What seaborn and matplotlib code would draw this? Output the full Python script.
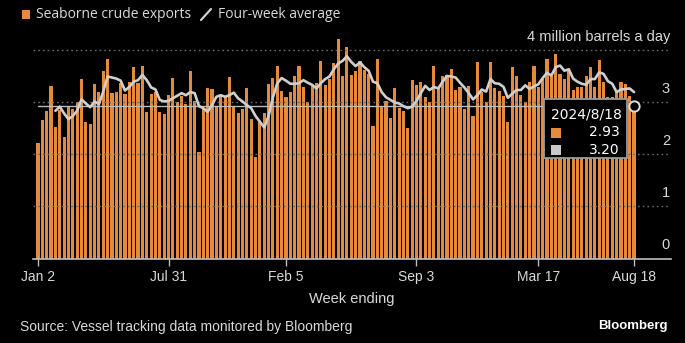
import numpy as np
import pandas as pd
import matplotlib
matplotlib.use("Agg")
import matplotlib.pyplot as plt
import seaborn as sns
from matplotlib.patches import Rectangle
from matplotlib.lines import Line2D

# ---------------- data ----------------
exports = [
    2.23, 2.66, 2.83, 3.32, 2.52, 2.86, 2.34, 2.93, 2.87, 3.00, 3.45, 2.62, 2.59, 3.35, 3.20, 3.60, 3.84, 3.19, 3.20, 3.38, 3.16, 3.39,
    3.68, 3.37, 3.71, 2.82, 3.16, 3.20, 2.82, 2.77, 3.14, 3.47, 3.00, 3.13, 2.98, 3.61, 3.02, 2.05, 2.89, 3.27, 3.25, 2.92, 3.13,
    3.11, 3.49, 2.93, 2.79, 2.88, 3.28, 2.68, 1.96, 2.63, 2.79, 3.36, 3.47, 3.70, 3.22, 3.11, 3.20, 3.51, 3.70, 3.30, 3.00, 3.34, 3.37, 3.80,
    3.34, 3.45, 3.76, 4.22, 3.50, 4.07, 3.53, 3.60, 3.80, 3.63, 3.54, 2.55, 3.84, 2.91, 3.02, 2.70, 3.28, 2.90, 2.84, 2.50, 3.43,
    3.33, 3.39, 3.10, 3.00, 3.71, 3.27, 3.50, 3.53, 3.64, 3.24, 3.30, 2.87, 3.32, 2.74, 3.78, 3.21, 3.01, 3.78, 3.28, 3.22, 3.13, 2.63,
    3.69, 3.50, 3.14, 3.00, 3.40, 3.70, 3.30, 3.46, 3.83, 3.50, 3.94, 3.55, 3.45, 3.60, 3.24, 3.30, 3.30, 3.50, 3.69, 3.30, 3.82, 3.40,
    3.10, 3.10, 3.20, 3.40, 3.35, 3.12, 2.93,
]
four_week_avg = [
    np.nan, np.nan, np.nan, np.nan, 2.84, 2.92, 2.79, 2.68, 2.74, 2.84, 3.06, 2.98, 2.91, 3.02, 2.97, 3.21, 3.50, 3.48, 3.46, 3.42, 3.23, 3.30,
    3.40, 3.43, 3.53, 3.43, 3.29, 3.25, 3.05, 3.02, 3.03, 3.08, 3.13, 3.18, 3.14, 3.20, 3.18, 2.93, 2.89, 2.82, 2.95, 3.11, 3.14,
    3.11, 3.14, 3.19, 3.08, 3.02, 2.95, 2.89, 2.74, 2.63, 2.52, 2.74, 3.10, 3.37, 3.47, 3.42, 3.36, 3.36, 3.37, 3.43, 3.38, 3.34, 3.27, 3.37,
    3.45, 3.50, 3.64, 3.75, 3.80, 3.89, 3.78, 3.70, 3.77, 3.68, 3.61, 3.40, 3.37, 3.20, 3.10, 3.05, 3.00, 2.98, 2.93, 2.89, 2.92,
    3.03, 3.18, 3.32, 3.24, 3.30, 3.27, 3.40, 3.51, 3.50, 3.48, 3.38, 3.29, 3.18, 3.06, 3.14, 3.25, 3.21, 3.45, 3.37, 3.36, 3.30, 3.09,
    3.17, 3.24, 3.24, 3.33, 3.26, 3.31, 3.35, 3.47, 3.57, 3.52, 3.68, 3.71, 3.61, 3.64, 3.46, 3.40, 3.36, 3.34, 3.45, 3.45, 3.58, 3.55,
    3.41, 3.36, 3.20, 3.25, 3.26, 3.27, 3.20,
]
first_week = "2022-01-02"
tick_weeks = [0, 30, 57, 87, 115, 137]
tick_labels = ["Jan 2", "Jul 31", "Feb 5", "Sep 3", "Mar 17", "Aug 18"]
y_ticks = [0, 1, 2, 3, 4]
y_labels = ["0", "1", "2", "3", "4 million barrels a day"]
hover_week = 137
hover_date = "2024/8/18"

ORANGE = "#E5893D"
LINE_GREY = "#CFCFCF"
TEXT = "#D9D9D9"

n = len(exports)
df = pd.DataFrame({
    "week": np.arange(n),
    "date": pd.date_range(first_week, periods=n, freq="7D"),
    "exports": exports,
    "avg": four_week_avg,
})

sns.set_theme(style="dark")
plt.rcParams["font.family"] = ["Liberation Sans", "DejaVu Sans"]
LEG_FONT = ["Open Sans", "DejaVu Sans"]

W, H = 685, 343
fig = plt.figure(figsize=(W / 100, H / 100), dpi=100, facecolor="black")
ax = fig.add_axes([33 / W, (H - 258.5) / H, (671 - 33) / W, (258.5 - 30) / H])
ax.set_facecolor("black")

sns.barplot(data=df, x="week", y="exports", native_scale=True, color=ORANGE,
            saturation=1, width=0.72, linewidth=0, errorbar=None, ax=ax, zorder=2)
sns.lineplot(data=df, x="week", y="avg", color=LINE_GREY, linewidth=1.9, ax=ax, zorder=5)

ax.set_xlim(-1.15, 145.5)
ax.set_ylim(0, 4.394)
for s in ["top", "right", "left"]:
    ax.spines[s].set_visible(False)
ax.spines["bottom"].set_color("#BDBDBD")
ax.spines["bottom"].set_linewidth(1.2)
ax.grid(False)

# gridlines
for v in y_ticks[1:]:
    ax.axhline(v, color="#6A6A6A", linestyle=(0, (1.2, 2.2)), linewidth=1.0, zorder=3)

# y labels (right side, above the gridlines)
ax.set_yticks([])
for v, lab in zip(y_ticks, y_labels):
    ax.annotate(lab, xy=(0.9985, v), xycoords=("axes fraction", "data"),
                xytext=(0, 9.5), textcoords="offset points", ha="right", va="center",
                color=TEXT, fontsize=10.5)

# x ticks
ax.set_xticks(tick_weeks)
ax.set_xticklabels(tick_labels)
ax.tick_params(axis="x", colors="#BDBDBD", length=5, width=1, labelcolor=TEXT,
               labelsize=10, pad=3, bottom=True)
ax.set_xlabel("Week ending", color=TEXT, fontsize=10.5, labelpad=6)
ax.set_ylabel("")

# hover cross-hair and marker
hv = exports[hover_week]
ax.plot([0, hover_week], [hv, hv], color="#BBBBBB", linewidth=1.0, zorder=4)
ax.scatter([hover_week], [hv], s=55, facecolor="black", edgecolor="#DDDDDD",
           linewidth=1.4, zorder=7)

# tooltip box (figure pixel coords)
def fx(px):
    return px / W

def fy(py):
    return 1 - py / H

fig.patches.append(Rectangle((fx(544), fy(158)), (627 - 544) / W, (158 - 99) / H,
                             transform=fig.transFigure, facecolor="black",
                             edgecolor="#9A9A9A", linewidth=1.3, zorder=10))
fig.text(fx(586), fy(115), hover_date, color="white", fontsize=10, ha="center",
         va="center", family=["DejaVu Sans"], zorder=11)
fig.patches.append(Rectangle((fx(551), fy(137.5)), 10 / W, 10 / H, transform=fig.transFigure,
                             facecolor=ORANGE, edgecolor="none", zorder=11))
fig.patches.append(Rectangle((fx(551), fy(154.5)), 10 / W, 10 / H, transform=fig.transFigure,
                             facecolor="#C8C8C8", edgecolor="none", zorder=11))
fig.text(fx(620), fy(132.5), f"{exports[hover_week]:.2f}", color="white", fontsize=10,
         ha="right", va="center", family=["DejaVu Sans"], zorder=11)
fig.text(fx(620), fy(149.5), f"{four_week_avg[hover_week]:.2f}", color="white", fontsize=10,
         ha="right", va="center", family=["DejaVu Sans"], zorder=11)

# legend
fig.patches.append(Rectangle((fx(22), fy(18.5)), 8 / W, 8 / H, transform=fig.transFigure,
                             facecolor=ORANGE, edgecolor="none"))
fig.text(fx(36), fy(14.5), "Seaborne crude exports", color=TEXT, fontsize=10,
         ha="left", va="center", family=LEG_FONT)
fig.lines.append(Line2D([fx(201), fx(211)], [fy(20), fy(9)], transform=fig.transFigure,
                        color=LINE_GREY, linewidth=1.6))
fig.text(fx(218), fy(14.5), "Four-week average", color=TEXT, fontsize=10,
         ha="left", va="center", family=LEG_FONT)

# footer
fig.text(fx(20), fy(327), "Source: Vessel tracking data monitored by Bloomberg", color=TEXT,
         fontsize=10, ha="left", va="center")
fig.text(fx(668), fy(326), "Bloomberg", color="white", fontsize=9.5, fontweight="bold",
         ha="right", va="center")

fig.savefig("out.png", dpi=100, facecolor="black")
